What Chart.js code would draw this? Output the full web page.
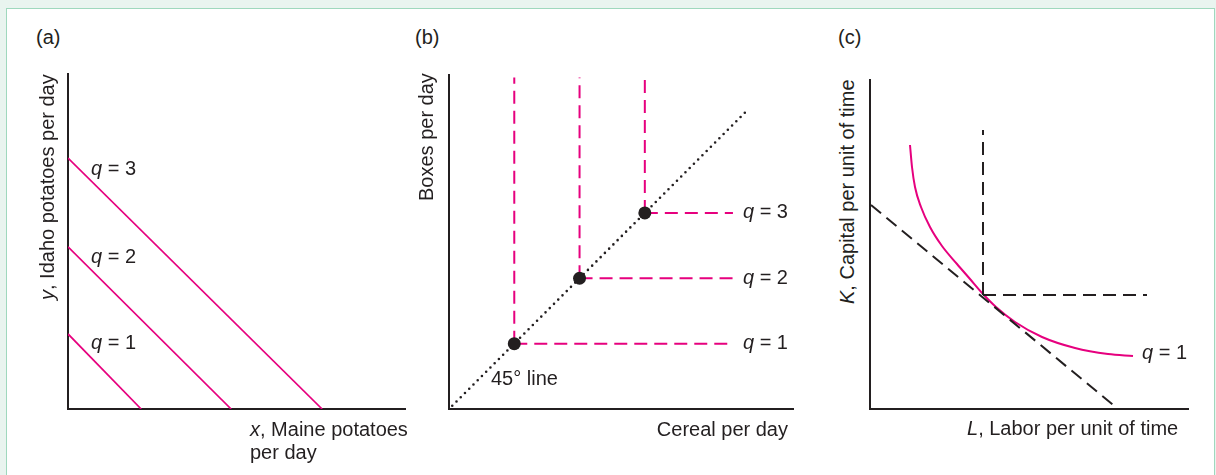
<!DOCTYPE html>
<html><head><meta charset="utf-8">
<script src="https://cdn.jsdelivr.net/npm/chart.js@4.4.1/dist/chart.umd.min.js"></script>
<style>
html,body{margin:0;padding:0;width:1216px;height:475px;overflow:hidden;background:#e9f4ef;}
#panel{position:absolute;left:6px;top:8px;width:1209px;height:490px;background:#fff;border:1.5px solid #9fd8bd;box-sizing:border-box;}
canvas{position:absolute;}
.t{position:absolute;font-family:"Liberation Sans",Arial,Helvetica,sans-serif;font-size:20px;line-height:20px;color:#231f20;white-space:nowrap;z-index:5;}
.i{font-style:italic;}
</style></head>
<body>
<div id="panel"></div>
<canvas id="ca"></canvas>
<canvas id="cb"></canvas>
<canvas id="cc"></canvas>
<script>
// ---------- DATA ----------
// Panel (a): perfect substitutes, straight isoquants (x-intercept, y-intercept)
const aLabels = ["q = 1", "q = 2", "q = 3"];
const aXIntercepts = [2.17, 4.84, 7.54];
const aYIntercepts = [2.24, 4.84, 7.49];
// Panel (b): fixed proportions, corner points
const bCorners = [1, 2, 3];
const bVerticalTop = 5.07;
const bHorizontalEnd = 4.35;
const bDiagonal = [{x: 0.05, y: 0.05}, {x: 4.55, y: 4.55}];
// Panel (c): smooth isoquant q = 1 (L, K)
const cCurveL = [40, 42, 45, 51, 60, 72, 87, 100, 113, 126, 145, 172, 205, 238, 263];
const cCurveK = [264, 242, 222, 202, 182, 163, 145, 130, 115, 102, 87, 72, 61, 55, 53];
const cTangent = [{x: 1, y: 204}, {x: 248, y: 0}];
const cCorner = {x: 113, y: 114};
const cVerticalTop = 279;
const cHorizontalEnd = 277;

// ---------- STYLE ----------
const INK = '#231f20';
const PINK = '#e6007e';
const PAD = 12;

function axis(min, max, horizontal) {
  return {
    type: 'linear', min: min, max: max, display: true,
    grid: {display: false, drawTicks: false},
    ticks: {display: false},
    border: {display: true, color: INK, width: 2},
    afterFit: function (s) { if (horizontal) s.height = 0; else s.width = 0; }
  };
}

function makeChart(id, area, xr, yr, datasets) {
  const cv = document.getElementById(id);
  const w = area.r - area.l + 2 * PAD, h = area.b - area.t + 2 * PAD;
  cv.width = w; cv.height = h;
  cv.style.left = (area.l - PAD) + 'px'; cv.style.top = (area.t - PAD) + 'px';
  cv.style.width = w + 'px'; cv.style.height = h + 'px';
  return new Chart(cv, {
    type: 'scatter',
    data: {datasets: datasets},
    options: {
      responsive: false, animation: false, devicePixelRatio: 1, events: [],
      layout: {padding: PAD},
      plugins: {legend: {display: false}, tooltip: {enabled: false}},
      scales: {x: axis(xr[0], xr[1], true), y: axis(yr[0], yr[1], false)}
    }
  });
}

function seg(points, color, width, dash, extra) {
  return Object.assign({
    data: points, showLine: true, pointRadius: 0, borderColor: color,
    borderWidth: width, borderDash: dash || [], fill: false, tension: 0
  }, extra || {});
}

// Panel (a)
const aSets = aLabels.map((l, i) => seg([{x: 0, y: aYIntercepts[i]}, {x: aXIntercepts[i], y: 0}], PINK, 1.7));
makeChart('ca', {l: 68, r: 405, t: 74, b: 409}, [0, 10], [0, 10], aSets);

// Panel (b)
const bSets = [];
bSets.push(seg(bDiagonal, INK, 2.6, [0, 6], {borderCapStyle: 'round', order: 2}));
bCorners.forEach(c => {
  bSets.push(seg([{x: c, y: c}, {x: c, y: bVerticalTop}], PINK, 2, [13, 7], {order: 1}));
  bSets.push(seg([{x: c, y: c}, {x: bHorizontalEnd, y: c}], PINK, 2, [13, 7], {order: 1}));
});
bSets.push({data: bCorners.map(c => ({x: c, y: c})), showLine: false, pointRadius: 6.5, order: -1,
  pointBackgroundColor: INK, pointBorderColor: INK, pointBorderWidth: 0});
makeChart('cb', {l: 449, r: 793, t: 75, b: 409}, [0, 5.27], [0, 5.11], bSets);

// Panel (c)
const cSets = [];
cSets.push(seg(cTangent, INK, 2, [13, 7]));
cSets.push(seg([cCorner, {x: cCorner.x, y: cVerticalTop}], INK, 2, [13, 7]));
cSets.push(seg([cCorner, {x: cHorizontalEnd, y: cCorner.y}], INK, 2, [13, 7]));
cSets.push(seg(cCurveL.map((v, i) => ({x: v, y: cCurveK[i]})), PINK, 2, [], {cubicInterpolationMode: 'monotone'}));
makeChart('cc', {l: 870, r: 1188, t: 80, b: 409}, [0, 318], [0, 329], cSets);

// ---------- TEXT ----------
function label(html, x, base, right) {
  const d = document.createElement('div');
  d.className = 't'; d.innerHTML = html;
  d.style.left = x + 'px'; d.style.top = (base - 17) + 'px';
  if (right) d.style.transform = 'translateX(-100%)';
  document.body.appendChild(d);
}
function vlabel(html, baseX, bottomY) {
  const d = document.createElement('div');
  d.className = 't'; d.innerHTML = html;
  d.style.left = (baseX - 17) + 'px'; d.style.top = bottomY + 'px';
  d.style.transformOrigin = '0 0'; d.style.transform = 'rotate(-90deg)';
  document.body.appendChild(d);
}
const q = s => '<span class="i">q</span> = ' + s;
// (a)
label('(a)', 36, 44);
label(q('3'), 91, 175); label(q('2'), 91, 263); label(q('1'), 91, 349);
label('<span class="i">x</span>, Maine potatoes', 250, 436);
label('per day', 250, 459);
vlabel('<span class="i">y</span>, Idaho potatoes per day', 53.5, 300);
// (b)
label('(b)', 415, 44);
label(q('3'), 788, 217.5, true); label(q('2'), 788, 283.5, true); label(q('1'), 788, 348.5, true);
label('45° line', 491, 385);
label('Cereal per day', 788, 435.5, true);
vlabel('Boxes per day', 432.5, 201);
// (c)
label('(c)', 838, 44);
label(q('1'), 1142, 359);
label('<span class="i">L</span>, Labor per unit of time', 967, 435);
vlabel('<span class="i">K</span>, Capital per unit of time', 853.5, 304);
</script>
</body></html>
